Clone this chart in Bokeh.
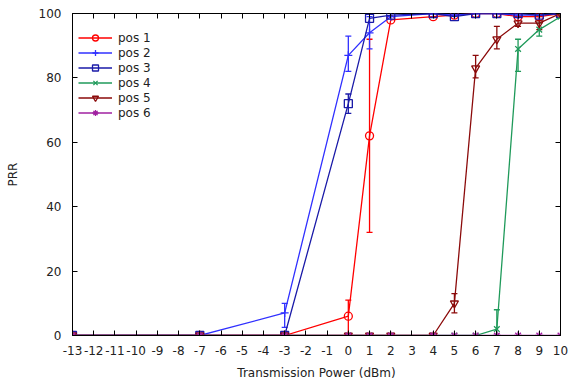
from bokeh.plotting import figure
from bokeh.models import (Range1d, FixedTicker, LinearAxis, Whisker, TeeHead,
                          ColumnDataSource, Legend, LegendItem, CustomJSTickFormatter)
from bokeh.embed import file_html
from bokeh.resources import INLINE

# ---- data ----
power = [-13, -7, -3, 0, 1, 2, 4, 5, 6, 7, 8, 9, 10]
pos1 = [0, 0, 0, 6, 62, 98, 99, 99.5, 100, 100, 99, 99, 100]
pos2 = [0, 0, 7, 87, 94, 99, 100, 99.5, 100, 100, 99.5, 99.5, 100]
pos3 = [0, 0, 0, 72, 98.5, 99.5, 100, 99, 100, 100, 100, 99.5, 100]
pos4 = [0, 0, 0, 0, 0, 0, 0, 0, 0, 2, 89, 95, 99]
pos5 = [0, 0, 0, 0, 0, 0, 0, 10, 83, 92, 97, 97, 100]
pos6 = [0, 0, 0, 0, 0, 0, 0, 0, 0, 0, 0, 0, 0]

# error bars (x, lower, upper)
pos1_err_x = [0, 1]
pos1_err_lo = [0.5, 32]
pos1_err_hi = [11, 92]
pos2_err_x = [-3, 0, 1]
pos2_err_lo = [2.5, 82, 89]
pos2_err_hi = [10, 93, 99]
pos3_err_x = [0]
pos3_err_lo = [69]
pos3_err_hi = [75]
pos4_err_x = [7, 8, 9]
pos4_err_lo = [0, 82, 93]
pos4_err_hi = [8, 92, 97]
pos5_err_x = [5, 6, 7, 8, 9]
pos5_err_lo = [7, 80, 89, 96, 95]
pos5_err_hi = [13, 87, 96, 99, 99]

labels = ["pos 1", "pos 2", "pos 3", "pos 4", "pos 5", "pos 6"]
x_ticks = list(range(-13, 11))
y_ticks = [0, 20, 40, 60, 80, 100]

FONT = "DejaVu Sans"

p = figure(width=568, height=383, output_backend="svg", toolbar_location=None,
           x_range=Range1d(-13, 10), y_range=Range1d(0, 100),
           min_border_left=72, min_border_right=8, min_border_top=13,
           min_border_bottom=48)
p.background_fill_color = "white"
p.border_fill_color = "white"
p.outline_line_color = "black"
p.outline_line_width = 1
p.xgrid.visible = False
p.ygrid.visible = False

plain = CustomJSTickFormatter(code="return String(tick);")
for ax in (p.xaxis[0], p.yaxis[0]):
    ax.major_tick_in = 5
    ax.major_tick_out = 0
    ax.minor_tick_in = 0
    ax.minor_tick_out = 0
    ax.axis_line_color = "black"
    ax.formatter = plain
    ax.major_label_text_font = FONT
    ax.major_label_text_font_size = "12px"
    ax.major_label_text_color = "#222222"
    ax.axis_label_text_font = FONT
    ax.axis_label_text_font_size = "12px"
    ax.axis_label_text_font_style = "normal"
    ax.axis_label_text_color = "#222222"

p.xaxis[0].ticker = FixedTicker(ticks=x_ticks)
p.yaxis[0].ticker = FixedTicker(ticks=y_ticks)
p.xaxis[0].axis_label = "Transmission Power (dBm)"
p.yaxis[0].axis_label = "PRR"
p.xaxis[0].major_label_standoff = 10
p.yaxis[0].major_label_standoff = 11
p.xaxis[0].axis_label_standoff = 8
p.yaxis[0].axis_label_standoff = 16

# mirrored ticks on top and right (no labels)
blank = CustomJSTickFormatter(code="return '';")
top = LinearAxis(ticker=FixedTicker(ticks=x_ticks), formatter=blank,
                 major_tick_in=5, major_tick_out=0,
                 minor_tick_in=0, minor_tick_out=0, axis_line_color=None,
                 major_label_standoff=0)
right = LinearAxis(ticker=FixedTicker(ticks=y_ticks), formatter=blank,
                   major_tick_in=5, major_tick_out=0,
                   minor_tick_in=0, minor_tick_out=0, axis_line_color=None,
                   major_label_standoff=0)
p.add_layout(top, "above")
p.add_layout(right, "right")

series = [
    (pos1, "#ff0000", "circle", pos1_err_x, pos1_err_lo, pos1_err_hi),
    (pos2, "#3030ff", "cross", pos2_err_x, pos2_err_lo, pos2_err_hi),
    (pos3, "#1a1aa8", "square", pos3_err_x, pos3_err_lo, pos3_err_hi),
    (pos4, "#1f9a5a", "x", pos4_err_x, pos4_err_lo, pos4_err_hi),
    (pos5, "#8b0a0a", "inverted_triangle", pos5_err_x, pos5_err_lo, pos5_err_hi),
    (pos6, "#a020a0", "asterisk", [], [], []),
]

items = []
for (vals, color, marker, ex, elo, ehi), lab in zip(series, labels):
    src = ColumnDataSource(dict(x=power, y=vals))
    ln = p.line("x", "y", source=src, line_color=color, line_width=1.3)
    sc = p.scatter("x", "y", source=src, marker=marker, size=8,
                   line_color=color, fill_color=None, line_width=1.3)
    if ex:
        esrc = ColumnDataSource(dict(x=ex, lo=elo, hi=ehi))
        w = Whisker(source=esrc, base="x", lower="lo", upper="hi",
                    dimension="height", line_color=color, line_width=1.3,
                    upper_head=TeeHead(size=6, line_color=color, line_width=1.3),
                    lower_head=TeeHead(size=6, line_color=color, line_width=1.3))
        p.add_layout(w)
    items.append(LegendItem(label=lab, renderers=[ln, sc]))

legend = Legend(items=items, location=(6, 215), border_line_color=None,
                background_fill_alpha=0, label_text_font=FONT,
                label_text_font_size="12px", label_text_color="#222222",
                glyph_width=34, glyph_height=15, label_height=15,
                spacing=0, padding=4, margin=0, label_standoff=6)
p.add_layout(legend, "center")

open("out.html", "w").write(file_html(p, INLINE))
